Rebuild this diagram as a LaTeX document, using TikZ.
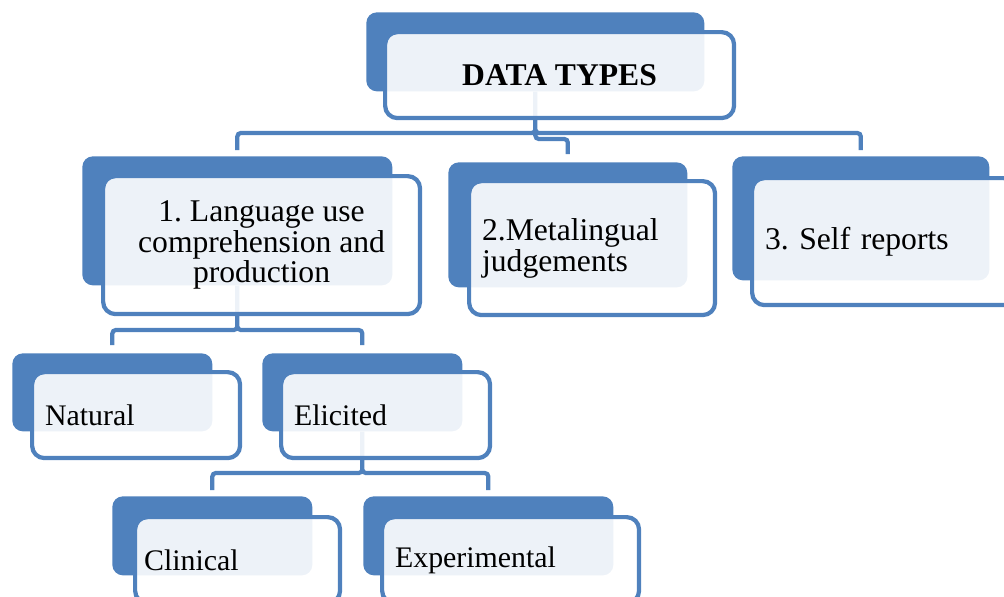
\documentclass[tikz,border=0pt]{standalone}
\usepackage{fontspec}
\setmainfont{Liberation Serif}
\usetikzlibrary{calc}
\usetikzlibrary{backgrounds}
\usetikzlibrary{positioning}
\definecolor{typeblue}{HTML}{4F81BD}
\frenchspacing
\tikzset{
  backbox/.style={fill=typeblue, rounded corners=6pt, anchor=north west, inner sep=0},
  frontbox/.style={draw=typeblue, line width=2.4pt, fill=white, fill opacity=0.9,
    text opacity=1, rounded corners=7pt, anchor=north west, inner xsep=0.26cm,
    inner ysep=0pt, align=left},
  link/.style={draw=typeblue, line width=2.4pt, rounded corners=2pt},
  bigtext/.style={font=\fontsize{18}{17.5}\selectfont},
  titletext/.style={font=\fontsize{18}{18}\selectfont\bfseries},
  smalltext/.style={font=\fontsize{17}{17}\selectfont},
}

\begin{document}
\begin{tikzpicture}[x=0.02cm, y=-0.02cm]
        \useasboundingbox (0,0) rectangle (1004,596);
        % back plates
        \begin{scope}[every node/.style={backbox}]
            \node[minimum width=6.76cm, minimum height=1.58cm] (topb) at (366,12) {};
            \node[minimum width=6.2cm,  minimum height=2.58cm] (c1b)  at (82,156)  {};
            \node[minimum width=4.78cm, minimum height=2.5cm]  (c2b)  at (448,162) {};
            \node[minimum width=5.14cm, minimum height=2.48cm] (c3b)  at (732,156) {};
            \node[minimum width=4.0cm,  minimum height=1.56cm] (natb) at (12,353)  {};
            \node[minimum width=4.0cm,  minimum height=1.56cm] (elib) at (262,353) {};
            \node[minimum width=4.0cm,  minimum height=1.58cm] (clib) at (112,496) {};
            \node[minimum width=5.0cm,  minimum height=1.58cm] (expb) at (363,496) {};
        \end{scope}
        % front plates with text
        \begin{scope}[every node/.style={frontbox}]
            \node[minimum width=6.98cm, minimum height=1.72cm, align=center, titletext]
                (topf) at (383,30) {DATA TYPES};
            \node[minimum width=6.34cm, minimum height=2.76cm, align=center, bigtext]
                (c1f) at (101,174) {1. Language use\\comprehension and\\production};
            \node[minimum width=4.92cm, minimum height=2.68cm, text width=4.4cm, bigtext]
                (c2f) at (467,179) {2.Metalingual\\judgements};
            \node[minimum width=5.28cm, minimum height=2.54cm, text width=4.76cm, bigtext]
                (c3f) at (750,176) {3. Self reports};
            \node[minimum width=4.16cm, minimum height=1.72cm, text width=3.64cm, smalltext]
                (natf) at (30,370) {Natural};
            \node[minimum width=4.18cm, minimum height=1.72cm, text width=3.66cm, smalltext]
                (elif) at (279,370) {Elicited};
            \node[minimum width=4.1cm, minimum height=1.72cm, text width=3.74cm, smalltext,
                inner xsep=0.18cm] (clif) at (133,515) {Clinical};
            \node[minimum width=5.14cm, minimum height=1.72cm, text width=4.62cm, smalltext]
                (expf) at (380,515) {Experimental};
        \end{scope}
        % elbow connectors
        \begin{scope}[on background layer]
            \draw[link]
                (topb.south) -- (topb.south |- 0,133) -| ([yshift=0.12cm]c1b.north)
                (topb.south) -- (topb.south |- 0,133) -| ([yshift=0.12cm]c3b.north)
                (topb.south) -- (topb.south |- 0,139) -| ([yshift=0.16cm]c2b.north);
            \draw[link]
                (c1b.south) -- (c1b.south |- 0,330) -| ([yshift=0.16cm]natb.north)
                (c1b.south) -- (c1b.south |- 0,330) -| ([yshift=0.16cm]elib.north);
            \draw[link]
                (elib.south) -- (elib.south |- 0,473) -| ([yshift=0.12cm]clib.north)
                (elib.south) -- (elib.south |- 0,473) -| ([yshift=0.12cm]expb.north);
        \end{scope}
\end{tikzpicture}
\end{document}
